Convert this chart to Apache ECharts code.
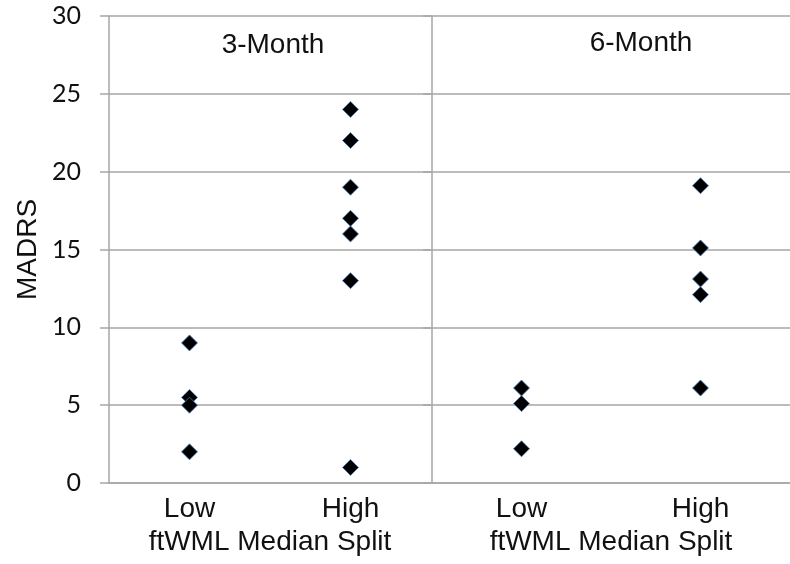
<!DOCTYPE html>
<html>
<head>
<meta charset="utf-8">
<script src="https://cdn.jsdelivr.net/npm/echarts@6/dist/echarts.min.js"></script>
<style>
  html, body { margin: 0; padding: 0; background: #fff; }
  #chartBox { width: 790px; height: 564px; }
</style>
</head>
<body>
<div id="chartBox"></div>
<script>
// MADRS scores by ftWML median split, 3 and 6 month follow-up
const categories = ['Low', 'High']
const panelTitles = ['3-Month', '6-Month']
const month3Low = [9, 5.5, 5, 2]
const month3High = [24, 22, 19, 17, 16, 13, 1]
const month6Low = [6.1, 5.1, 2.2]
const month6High = [19.1, 15.1, 13.1, 12.1, 6.1]

const gridColor = '#a6a6a6'
const textFont = 'Liberation Sans'

function pairs(cat, vals) {
  return vals.map(v => [cat, v])
}

function xAxisFor(idx) {
  return {
    type: 'category',
    gridIndex: idx,
    data: categories,
    boundaryGap: true,
    name: 'ftWML Median Split',
    nameLocation: 'middle',
    nameGap: 41,
    nameTextStyle: { color: '#111', fontSize: 28, fontFamily: textFont },
    axisLine: { show: true, lineStyle: { color: gridColor, width: 1.5 } },
    axisTick: { show: false },
    axisLabel: { color: '#111', fontSize: 28, fontFamily: textFont, margin: 12 },
    splitLine: { show: false }
  }
}

function yAxisFor(idx) {
  return {
    type: 'value',
    gridIndex: idx,
    min: 0,
    max: 30,
    interval: 5,
    name: idx === 0 ? 'MADRS' : '',
    nameLocation: 'middle',
    nameGap: 67,
    nameTextStyle: { color: '#111', fontSize: 28, fontFamily: textFont },
    axisLine: { show: true, lineStyle: { color: gridColor, width: 1.5 } },
    axisTick: { show: true, inside: false, length: 9, lineStyle: { color: gridColor, width: 1.5 } },
    axisLabel: { show: idx === 0, color: '#111', fontSize: 25, fontFamily: 'Lato', margin: 28 },
    splitLine: { show: true, lineStyle: { color: gridColor, width: 1.5 } }
  }
}

function dots(name, idx, data) {
  return {
    name: name,
    type: 'scatter',
    xAxisIndex: idx,
    yAxisIndex: idx,
    symbol: 'diamond',
    symbolSize: 16,
    itemStyle: { color: '#000', borderColor: '#4a7ebb', borderWidth: 0.8, opacity: 1 },
    data: data
  }
}

const chart = echarts.init(document.getElementById('chartBox'))
chart.setOption({
  animation: false,
  backgroundColor: '#fff',
  grid: [
    { left: 109, top: 16, width: 322, bottom: 81 },
    { left: 432, top: 16, width: 366, bottom: 81 }
  ],
  xAxis: [xAxisFor(0), xAxisFor(1)],
  yAxis: [yAxisFor(0), yAxisFor(1)],
  graphic: [
    { type: 'text', x: 273, y: 45, style: { text: panelTitles[0], fill: '#111', fontSize: 28, fontFamily: textFont, textAlign: 'center', textVerticalAlign: 'middle' } },
    { type: 'text', x: 641, y: 43, style: { text: panelTitles[1], fill: '#111', fontSize: 28, fontFamily: textFont, textAlign: 'center', textVerticalAlign: 'middle' } }
  ],
  series: [
    dots('3-Month Low', 0, pairs('Low', month3Low)),
    dots('3-Month High', 0, pairs('High', month3High)),
    dots('6-Month Low', 1, pairs('Low', month6Low)),
    dots('6-Month High', 1, pairs('High', month6High))
  ]
})
window.addEventListener('resize', () => {
  chart.resize()
})
</script>
</body>
</html>
